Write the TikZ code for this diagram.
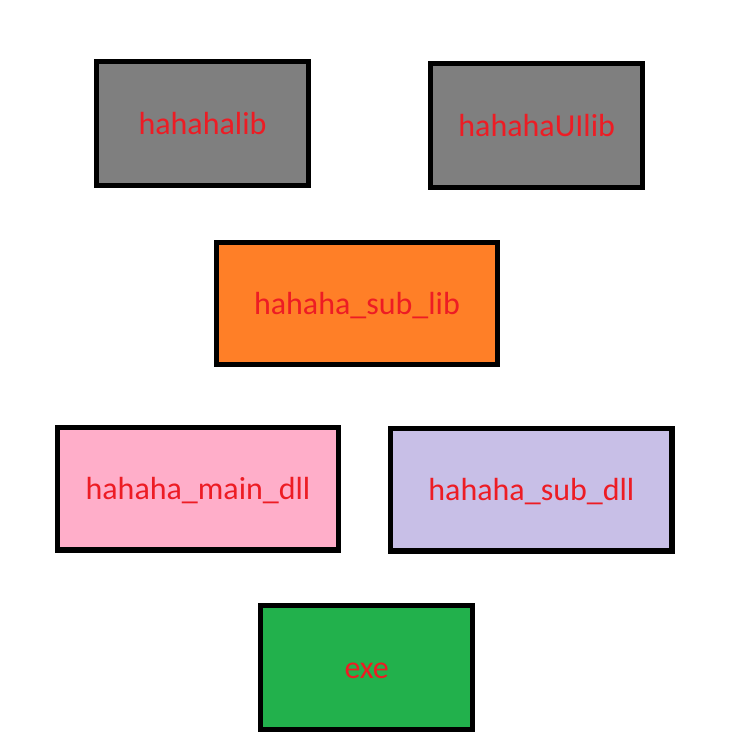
\documentclass[tikz,border=0pt]{standalone}
\usepackage{fontspec}
\setmainfont{Carlito}
\usepackage{tikz}
\usetikzlibrary{positioning}
\definecolor{libgray}{HTML}{7F7F7F}
\definecolor{suborange}{HTML}{FF7F27}
\definecolor{mainpink}{HTML}{FFAEC9}
\definecolor{sublilac}{HTML}{C8BFE7}
\definecolor{exegreen}{HTML}{22B14C}
\definecolor{txtred}{HTML}{ED1C24}

\begin{document}
\begin{tikzpicture}[x=0.75pt, y=-0.75pt]

                \tikzset{% box styles
                    module/.style={rectangle,draw=black,line width=3.9pt,fill=#1,
                                   minimum width=159pt,minimum height=93pt,
                                   text=txtred,font=\fontsize{24}{28}\selectfont,
                                   text height=18.5pt,text depth=1.8pt,inner sep=0pt},
                    widemodule/.style={module=#1,minimum width=211pt,minimum height=92pt}}

                    \useasboundingbox (0,0) rectangle (738,751);

                    \node [module=libgray](lib) at (202.5,123.5) {hahahalib};
                    \node [module=libgray](uilib) at (536.7,125.5) {hahahaUIlib};
                    \node [widemodule=suborange](sublib) at (357,303.5) {hahaha\_sub\_lib};
                    \node [widemodule=mainpink](maindll) at (198,488.7) {hahaha\_main\_dll};
                    \node [widemodule=sublilac](subdll) at (531.4,489.7) {hahaha\_sub\_dll};
                    \node [module=exegreen](exe) at (366.7,667.8) {exe};

            \end{tikzpicture}
\end{document}
